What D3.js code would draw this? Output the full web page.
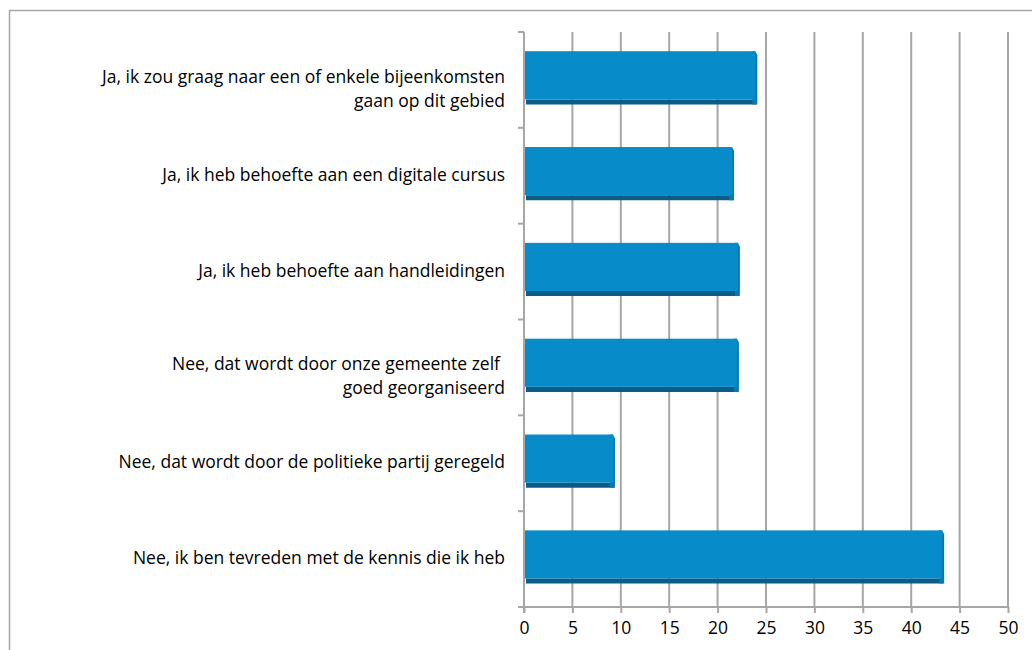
<!DOCTYPE html>
<html>
<head>
<meta charset="utf-8">
<script src="https://cdn.jsdelivr.net/npm/d3@7"></script>
<style>
  body { margin: 0; background: #fff; }
  svg text { font-family: "Open Sans", Lato, sans-serif; fill: #000; }
</style>
</head>
<body>
<div id="chart"></div>
<script>
'use strict';

// categories top -> bottom, each as lines of text
const CATEGORIES = [
  ['Ja, ik zou graag naar een of enkele bijeenkomsten', 'gaan op dit gebied'],
  ['Ja, ik heb behoefte aan een digitale cursus'],
  ['Ja, ik heb behoefte aan handleidingen'],
  ['Nee, dat wordt door onze gemeente zelf', 'goed georganiseerd'],
  ['Nee, dat wordt door de politieke partij geregeld'],
  ['Nee, ik ben tevreden met de kennis die ik heb'],
]
const VALUES = [24, 21.6, 22.2, 22.1, 9.3, 43.3]
const X_TICKS = [0, 5, 10, 15, 20, 25, 30, 35, 40, 45, 50]

const W = 1032, H = 650
const m = { top: 32, left: 524, right: 24, bottom: 43 }
const w = W - m.left - m.right
const h = H - m.top - m.bottom
const FONT = 17.5

const svg = d3.select('#chart').append('svg')
  .attr('width', W).attr('height', H)

// outer frame
svg.append('rect')
  .attr('x', 9.5).attr('y', 10.5)
  .attr('width', W + 20).attr('height', H + 20)
  .attr('fill', 'none').attr('stroke', '#a6a6a6').attr('stroke-width', 1.5)

const g = svg.append('g').attr('transform', 'translate(' + m.left + ',' + m.top + ')')

const x = d3.scaleLinear().domain([0, 50]).range([0, w])
const y = d3.scaleBand().domain(d3.range(CATEGORIES.length)).range([0, h])
  .paddingInner(0.445).paddingOuter(0.2225).align(0.45)

// vertical gridlines
g.append('g').selectAll('line').data(X_TICKS.slice(1)).enter().append('line')
  .attr('x1', d => x(d)).attr('x2', d => x(d))
  .attr('y1', 0).attr('y2', h)
  .attr('stroke', '#a6a6a6').attr('stroke-width', 2)

// bars with a little 3D depth
const depth = 5
const bars = g.append('g').selectAll('g').data(VALUES).enter().append('g')

bars.append('path')
  .attr('fill', '#0b5c86')
  .attr('d', (d, i) => {
    const y0 = y(i) + y.bandwidth() - depth, x1 = x(d)
    return 'M2,' + y0 + 'L' + x1 + ',' + y0 + 'L' + x1 + ',' + (y0 + depth) + 'L2,' + (y0 + depth) + 'Z'
  })

bars.append('path')
  .attr('fill', '#0a79ae')
  .attr('d', (d, i) => {
    const y0 = y(i), y1 = y(i) + y.bandwidth() - depth, x1 = x(d)
    return 'M' + (x1 - 4) + ',' + y0 + 'L' + (x1 - 1) + ',' + y0 + 'L' + (x1 + 1) + ',' + (y0 + 4) +
      'L' + (x1 + 1) + ',' + (y1 + depth) + 'L' + (x1 - 4) + ',' + (y1 + depth) + 'Z'
  })

bars.append('rect')
  .attr('x', 1).attr('y', (d, i) => y(i))
  .attr('width', d => x(d) - 2)
  .attr('height', y.bandwidth() - depth)
  .attr('fill', '#078cc9')

// x axis
const xAxis = d3.axisBottom(x).tickValues(X_TICKS).tickSize(6).tickPadding(9)
const xg = g.append('g').attr('transform', 'translate(0,' + h + ')').call(xAxis)
xg.select('.domain').remove()
xg.append('line').attr('x1', -6).attr('x2', w).attr('y1', 0).attr('y2', 0)
  .attr('stroke', '#a6a6a6').attr('stroke-width', 2)
xg.selectAll('.tick line').attr('stroke', '#a6a6a6').attr('stroke-width', 2)
xg.selectAll('.tick text').attr('font-size', FONT).style('font-family', '"Open Sans", sans-serif').attr('fill', '#000')

// y axis line and category boundary ticks
const step = h / CATEGORIES.length
g.append('line').attr('x1', 0).attr('x2', 0).attr('y1', 0).attr('y2', h + 6)
  .attr('stroke', '#a6a6a6').attr('stroke-width', 2)
g.append('g').selectAll('line').data(d3.range(CATEGORIES.length + 1)).enter().append('line')
  .attr('x1', -6).attr('x2', 0)
  .attr('y1', d => d * step).attr('y2', d => d * step)
  .attr('stroke', '#a6a6a6').attr('stroke-width', 2)

// category labels: first line sits on the category centre
const labels = g.append('g').selectAll('text').data(CATEGORIES).enter().append('text')
  .attr('text-anchor', 'end')
  .attr('font-size', FONT)
  .attr('y', (d, i) => (i + 0.5) * step)
labels.selectAll('tspan').data(d => d.map((t, k) => ({ t, k, n: d.length }))).enter().append('tspan')
  .attr('x', d => d.k === 0 && d.n > 1 && d.t.endsWith('zelf') ? -24 : -19)
  .attr('dy', d => d.k === 0 ? (d.n > 1 ? '3px' : '5px') : '24px')
  .text(d => d.t)
</script>
</body>
</html>
